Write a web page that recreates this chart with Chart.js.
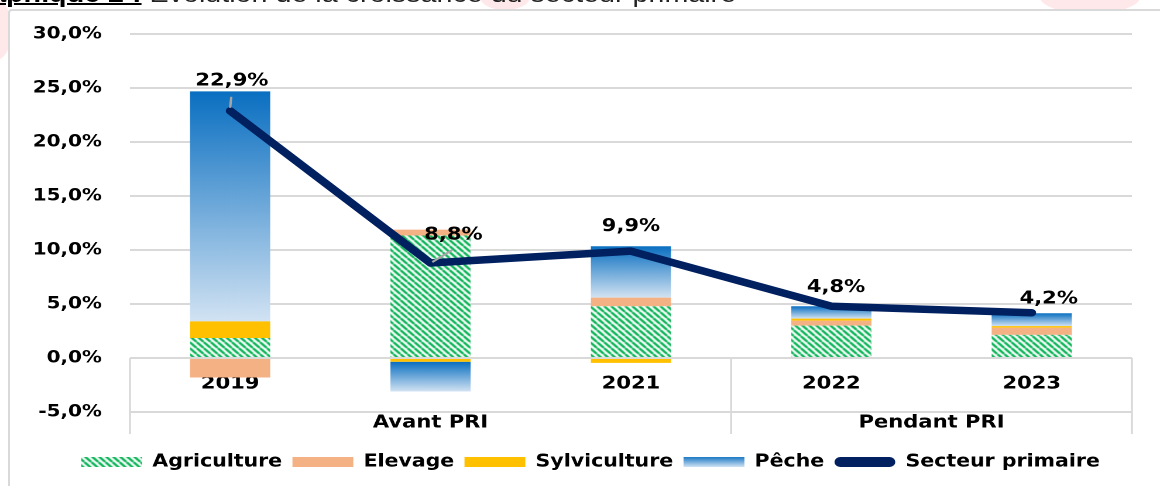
<!DOCTYPE html>
<html>
<head>
<meta charset="utf-8">
<script src="https://cdn.jsdelivr.net/npm/chart.js@4.4.1/dist/chart.umd.min.js"></script>
<style>
  html, body { margin:0; padding:0; background:#ffffff; overflow:hidden; width:1160px; height:486px; }
  #frame { position:absolute; left:8px; top:9px; width:1300px; height:700px; border:2px solid #d9d9d9; border-radius:4px; box-sizing:border-box; background:#fff; }
  #wrap { position:absolute; left:0; top:0; width:991px; height:486px; transform:scaleX(1.17054); transform-origin:0 0; }
  #title { position:absolute; left:-37px; top:-18px; white-space:nowrap; font-family:"Liberation Sans", Arial, sans-serif; font-size:24.5px; line-height:1; color:#222; }
  #title b { text-decoration:underline; text-decoration-thickness:2px; color:#000; }
  canvas { position:absolute; left:0; top:0; }
  .blob { position:absolute; border-radius:50%; background:rgba(255,190,195,0.35); }
</style>
</head>
<body>
<div class="blob" style="left:-20px;top:0px;width:32px;height:60px;"></div>
<div class="blob" style="left:1040px;top:-20px;width:100px;height:34px;"></div>
<div class="blob" style="left:480px;top:-16px;width:50px;height:26px;"></div>
<div id="frame"></div>
<div id="wrap">
  <div id="title"><b>Graphique 2 :</b> Evolution de la croissance du secteur primaire</div>
  <canvas id="c" width="991" height="486"></canvas>
</div>
<script>
// ---- data ----
const years = ['2019', '2020', '2021', '2022', '2023'];
const groupLabels = ['Avant PRI', 'Pendant PRI'];
const groupSizes = [3, 2];
const agriculture = [1.85, 11.35, 4.8, 3.0, 2.15];
const elevage = [-1.8, 0.55, 0.8, 0.45, 0.65];
const sylviculture = [1.55, -0.35, -0.45, 0.2, 0.15];
const peche = [21.3, -2.75, 4.75, 1.15, 1.2];
const secteurPrimaire = [22.9, 8.8, 9.9, 4.8, 4.2];
const yTicks = [-5, 0, 5, 10, 15, 20, 25, 30];
const seriesNames = ['Agriculture', 'Elevage', 'Sylviculture', 'Pêche', 'Secteur primaire'];

// ---- helpers ----
const fmt = v => v.toFixed(1).replace('.', ',') + '%';
const FONT = '"DejaVu Sans", Verdana, sans-serif';

// group centers & boundaries (in category index units)
const groupCenters = [];
const groupBounds = [-0.5];
(function () {
  let start = 0;
  groupSizes.forEach(n => {
    groupCenters.push(start + (n - 1) / 2);
    start += n;
    groupBounds.push(start - 0.5);
  });
})();

// hatch pattern for Agriculture
function makeHatch() {
  const s = 6;
  const c = document.createElement('canvas');
  c.width = s; c.height = s;
  const g = c.getContext('2d');
  g.fillStyle = '#ffffff';
  g.fillRect(0, 0, s, s);
  g.strokeStyle = '#00b050';
  g.lineWidth = 2.1;
  g.beginPath();
  for (let k = -1; k <= 1; k++) {
    g.moveTo(k * s, 0);
    g.lineTo(k * s + s, s);
  }
  g.stroke();
  return document.getElementById('c').getContext('2d').createPattern(c, 'repeat');
}
const hatch = makeHatch();

const PECHE_TOP = '#0a6fc1';
const PECHE_BOT = '#d2e3f3';
function vGradient(c2d, top, bot) {
  const g = c2d.createLinearGradient(0, top, 0, bot);
  g.addColorStop(0, PECHE_TOP);
  g.addColorStop(1, PECHE_BOT);
  return g;
}
function pecheColor(ctx) {
  const chart = ctx.chart;
  const y = chart.scales && chart.scales.y;
  if (ctx.type !== 'data' || !y || !chart.chartArea) return PECHE_TOP;
  const i = ctx.dataIndex;
  const v = peche[i];
  const before = [agriculture[i], elevage[i], sylviculture[i]];
  const base = before.filter(b => (v >= 0 ? b > 0 : b < 0)).reduce((a, b) => a + b, 0);
  const y0 = y.getPixelForValue(base);
  const y1 = y.getPixelForValue(base + v);
  const top = Math.min(y0, y1), bot = Math.max(y0, y1);
  if (!isFinite(top) || !isFinite(bot) || bot - top < 0.5) return PECHE_TOP;
  return vGradient(chart.ctx, top, bot);
}

// label placement for the line values (canvas px offsets from the point)
const lineLabelOffsets = [[1.5, -30], [19.5, -28], [0, -25], [4, -19], [14.5, -14]];
const leaderLines = { 0: [[1, -14], [0, -3]], 1: [[18.5, -13], [1.5, -1]] };

const lineLabels = {
  id: 'lineLabels',
  afterDatasetsDraw(chart) {
    const idx = chart.data.datasets.findIndex(d => d.type === 'line');
    const meta = chart.getDatasetMeta(idx);
    const ctx = chart.ctx;
    ctx.save();
    meta.data.forEach((pt, i) => {
      const l = leaderLines[i];
      if (l) {
        ctx.strokeStyle = '#a6a6a6';
        ctx.lineWidth = 2;
        ctx.beginPath();
        ctx.moveTo(pt.x + l[0][0], pt.y + l[0][1]);
        ctx.lineTo(pt.x + l[1][0], pt.y + l[1][1]);
        ctx.stroke();
      }
      const o = lineLabelOffsets[i];
      ctx.font = 'bold 18px ' + FONT;
      ctx.fillStyle = '#000';
      ctx.textAlign = 'center';
      ctx.textBaseline = 'middle';
      ctx.fillText(fmt(secteurPrimaire[i]), pt.x + o[0], pt.y + o[1]);
    });
    ctx.restore();
  }
};

const groupSeparators = {
  id: 'groupSeparators',
  beforeDatasetsDraw(chart) {
    const x2 = chart.scales.x2, y = chart.scales.y;
    const ctx = chart.ctx;
    const yTop = y.getPixelForValue(0);
    const yBot = y.bottom + 22;
    ctx.save();
    ctx.strokeStyle = '#d9d9d9';
    ctx.lineWidth = 1.8;
    groupBounds.forEach(b => {
      const px = x2.getPixelForValue(b);
      ctx.beginPath();
      ctx.moveTo(px, yTop);
      ctx.lineTo(px, yBot);
      ctx.stroke();
    });
    ctx.restore();
  }
};

const barCommon = { type: 'bar', xAxisID: 'x', yAxisID: 'y', stack: 'bars', borderWidth: 0, order: 1 };

new Chart(document.getElementById('c'), {
  data: {
    labels: years,
    datasets: [
      Object.assign({ label: seriesNames[0], data: agriculture, backgroundColor: hatch }, barCommon),
      Object.assign({ label: seriesNames[1], data: elevage, backgroundColor: '#f4b183' }, barCommon),
      Object.assign({ label: seriesNames[2], data: sylviculture, backgroundColor: '#ffc000' }, barCommon),
      Object.assign({ label: seriesNames[3], data: peche, backgroundColor: pecheColor }, barCommon),
      {
        type: 'line', label: seriesNames[4], data: secteurPrimaire, xAxisID: 'x', yAxisID: 'y', stack: 'line',
        borderColor: '#002060', backgroundColor: '#002060', borderWidth: 7.5,
        borderCapStyle: 'round', borderJoinStyle: 'round',
        pointRadius: 0, pointHoverRadius: 0, tension: 0, fill: false, order: 0
      }
    ]
  },
  options: {
    responsive: false,
    devicePixelRatio: 2,
    animation: false,
    layout: { padding: { top: 33, right: 24, bottom: 5.25, left: 42 } },
    datasets: { bar: { barPercentage: 0.4, categoryPercentage: 1 } },
    scales: {
      x: {
        type: 'category',
        position: { y: 0 },
        stacked: true,
        offset: true,
        grid: { display: false, drawTicks: false },
        border: { display: false },
        ticks: { font: { family: FONT, size: 18, weight: 'bold' }, color: '#000', padding: 15, maxRotation: 0, autoSkip: false }
      },
      x2: {
        type: 'linear',
        axis: 'x',
        position: 'bottom',
        min: -0.5,
        max: 4.5,
        grid: { display: false, drawTicks: false },
        border: { display: false },
        afterBuildTicks: s => { s.ticks = groupCenters.map(v => ({ value: v })); },
        afterFit: s => { s.height = 32.45; },
        ticks: {
          font: { family: FONT, size: 18, weight: 'bold' }, color: '#000', padding: 0,
          maxRotation: 0, autoSkip: false,
          callback: (v, i) => groupLabels[i]
        }
      },
      y: {
        type: 'linear',
        stacked: true,
        min: -5,
        max: 30,
        afterBuildTicks: s => { s.ticks = yTicks.map(v => ({ value: v })); },
        afterFit: s => { s.width = 69; },
        afterUpdate: s => { s._computeLabelArea = () => undefined; },
        grid: { color: '#d9d9d9', lineWidth: 2, drawTicks: false },
        border: { display: false },
        ticks: { font: { family: FONT, size: 17, weight: 'bold' }, color: '#000', padding: 24, callback: v => fmt(v) }
      }
    },
    plugins: {
      tooltip: { enabled: false },
      title: { display: false },
      legend: {
        position: 'bottom',
        labels: {
          boxWidth: 52,
          boxHeight: 10,
          padding: 8.8,
          color: '#000',
          font: { family: FONT, size: 17.5, weight: 'bold' },
          generateLabels: chart => {
            const items = Chart.defaults.plugins.legend.labels.generateLabels(chart);
            items.sort((a, b) => a.datasetIndex - b.datasetIndex);
            const h = chart.height || 486;
            items.forEach(it => {
              it.lineWidth = 0;
              it.strokeStyle = 'rgba(0,0,0,0)';
              if (it.text === seriesNames[3]) it.fillStyle = vGradient(chart.ctx, h - 30, h - 19);
              if (it.text === seriesNames[4]) { it.fillStyle = '#002060'; it.borderRadius = 5; }
            });
            return items;
          }
        }
      }
    }
  },
  plugins: [groupSeparators, lineLabels]
});
</script>
</body>
</html>
